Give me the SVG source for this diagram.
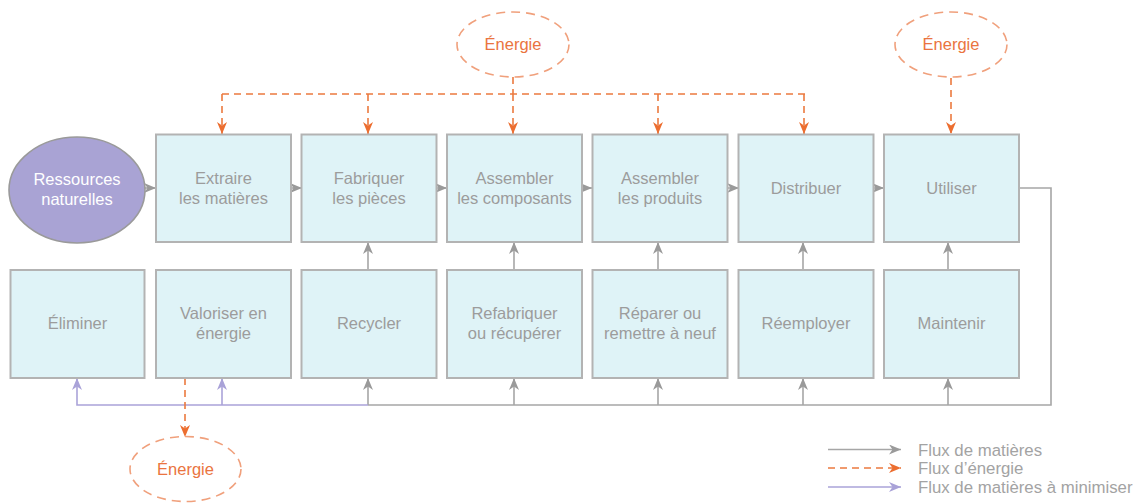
<svg xmlns="http://www.w3.org/2000/svg" width="1142" height="504" viewBox="0 0 1142 504">
<style>
.box{fill:#dff3f7;stroke:#b3b3b3;stroke-width:2}
.t{font-family:"Liberation Sans",Arial,sans-serif;font-size:16.5px;fill:#9c9c9c;text-anchor:middle}
.w{fill:#ffffff}
.o{fill:#ea7440}
.eel{fill:none;stroke:#f0a07c;stroke-width:1.6;stroke-dasharray:9 6}
.g{fill:none;stroke:#a6a6a6;stroke-width:1.6}
.p{fill:none;stroke:#aaa3d9;stroke-width:1.6}
.d{fill:none;stroke:#ec7a3f;stroke-width:1.6;stroke-dasharray:7 5}
.lg{font-family:"Liberation Sans",Arial,sans-serif;font-size:16.8px;fill:#a3a3a3}
</style>
<defs>
<marker id="ag" viewBox="0 0 12 10" refX="12" refY="5" markerWidth="12" markerHeight="10" markerUnits="userSpaceOnUse" orient="auto"><path d="M0,0 L12,5 L0,10 L3.5,5 z" fill="#9a9a9a"/></marker>
<marker id="ap" viewBox="0 0 12 10" refX="12" refY="5" markerWidth="12" markerHeight="10" markerUnits="userSpaceOnUse" orient="auto"><path d="M0,0 L12,5 L0,10 L3.5,5 z" fill="#a9a2d8"/></marker>
<marker id="ao" viewBox="0 0 12 10" refX="12" refY="5" markerWidth="12" markerHeight="10" markerUnits="userSpaceOnUse" orient="auto"><path d="M0,0 L12,5 L0,10 L3.5,5 z" fill="#ec6e30"/></marker>
</defs>

<g id="connectors">
<!-- top row flow -->
<path class="g" d="M141,188 H156" marker-end="url(#ag)"/>
<path class="g" d="M291,188 H302" marker-end="url(#ag)"/>
<path class="g" d="M437,188 H447" marker-end="url(#ag)"/>
<path class="g" d="M582,188 H592" marker-end="url(#ag)"/>
<path class="g" d="M727,188 H739" marker-end="url(#ag)"/>
<path class="g" d="M874,188 H884" marker-end="url(#ag)"/>
<!-- bottom to top -->
<path class="g" d="M368,270 V242" marker-end="url(#ag)"/>
<path class="g" d="M514,270 V242" marker-end="url(#ag)"/>
<path class="g" d="M658,270 V242" marker-end="url(#ag)"/>
<path class="g" d="M803,270 V242" marker-end="url(#ag)"/>
<path class="g" d="M948,270 V242" marker-end="url(#ag)"/>
<!-- return loop -->
<path class="g" d="M1019,188 H1051 V405 H368"/>
<path class="g" d="M368,405 V378" marker-end="url(#ag)"/>
<path class="g" d="M514,405 V378" marker-end="url(#ag)"/>
<path class="g" d="M658,405 V378" marker-end="url(#ag)"/>
<path class="g" d="M803,405 V378" marker-end="url(#ag)"/>
<path class="g" d="M948,405 V378" marker-end="url(#ag)"/>
<path class="p" d="M368,405 H77 V378" marker-end="url(#ap)"/>
<path class="p" d="M222,405 V378" marker-end="url(#ap)"/>
<!-- energy -->
<path class="d" d="M513,77 V94"/>
<path class="d" d="M222,94 H805"/>
<path class="d" d="M222,94 V134" marker-end="url(#ao)"/>
<path class="d" d="M368,94 V134" marker-end="url(#ao)"/>
<path class="d" d="M513,94 V134" marker-end="url(#ao)"/>
<path class="d" d="M658,94 V134" marker-end="url(#ao)"/>
<path class="d" d="M804,94 V134" marker-end="url(#ao)"/>
<path class="d" d="M951,78 V134" marker-end="url(#ao)"/>
<path class="d" d="M185,378 V437" marker-end="url(#ao)"/>
</g>

<g id="ressources">
<ellipse cx="77" cy="190" rx="68" ry="53" fill="#a9a3d4" stroke="#9a9a9a" stroke-width="1.6"/>
<text class="t w" x="77" y="185">Ressources</text>
<text class="t w" x="77" y="205">naturelles</text>
</g>

<g id="energie-top">
<ellipse class="eel" cx="513" cy="44.5" rx="56" ry="32.5"/>
<text class="t o" x="513" y="50">Énergie</text>
</g>
<g id="energie-right">
<ellipse class="eel" cx="951" cy="44.5" rx="56" ry="32.5"/>
<text class="t o" x="951" y="50">Énergie</text>
</g>
<g id="energie-bottom">
<ellipse class="eel" cx="185.5" cy="469" rx="55.5" ry="32.5"/>
<text class="t o" x="185.5" y="474.5">Énergie</text>
</g>

<g id="extraire"><rect class="box" x="156" y="134.5" width="135" height="107.5"/><text class="t" x="223.5" y="184">Extraire</text><text class="t" x="223.5" y="204">les matières</text></g>
<g id="fabriquer"><rect class="box" x="301.5" y="134.5" width="135" height="107.5"/><text class="t" x="369" y="184">Fabriquer</text><text class="t" x="369" y="204">les pièces</text></g>
<g id="assembler-composants"><rect class="box" x="447" y="134.5" width="135" height="107.5"/><text class="t" x="514.5" y="184">Assembler</text><text class="t" x="514.5" y="204">les composants</text></g>
<g id="assembler-produits"><rect class="box" x="592.5" y="134.5" width="135" height="107.5"/><text class="t" x="660" y="184">Assembler</text><text class="t" x="660" y="204">les produits</text></g>
<g id="distribuer"><rect class="box" x="738.5" y="134.5" width="135" height="107.5"/><text class="t" x="806" y="194">Distribuer</text></g>
<g id="utiliser"><rect class="box" x="884" y="134.5" width="135" height="107.5"/><text class="t" x="951.5" y="194">Utiliser</text></g>

<g id="eliminer"><rect class="box" x="10.5" y="270" width="134" height="108"/><text class="t" x="77.5" y="329">Éliminer</text></g>
<g id="valoriser"><rect class="box" x="156" y="270" width="135" height="108"/><text class="t" x="223.5" y="319">Valoriser en</text><text class="t" x="223.5" y="339">énergie</text></g>
<g id="recycler"><rect class="box" x="301.5" y="270" width="135" height="108"/><text class="t" x="369" y="329">Recycler</text></g>
<g id="refabriquer"><rect class="box" x="447" y="270" width="135" height="108"/><text class="t" x="514.5" y="319">Refabriquer</text><text class="t" x="514.5" y="339">ou récupérer</text></g>
<g id="reparer"><rect class="box" x="592.5" y="270" width="135" height="108"/><text class="t" x="660" y="319">Réparer ou</text><text class="t" x="660" y="339">remettre à neuf</text></g>
<g id="reemployer"><rect class="box" x="738.5" y="270" width="135" height="108"/><text class="t" x="806" y="329">Réemployer</text></g>
<g id="maintenir"><rect class="box" x="884" y="270" width="135" height="108"/><text class="t" x="951.5" y="329">Maintenir</text></g>

<g id="legend">
<path class="g" d="M828,449.5 H901" marker-end="url(#ag)"/>
<path class="d" d="M828,468 H901" marker-end="url(#ao)"/>
<path class="p" d="M828,487 H901" marker-end="url(#ap)"/>
<text class="lg" x="918" y="455.5">Flux de matières</text>
<text class="lg" x="918" y="474">Flux d’énergie</text>
<text class="lg" x="918" y="493">Flux de matières à minimiser</text>
</g>
</svg>
